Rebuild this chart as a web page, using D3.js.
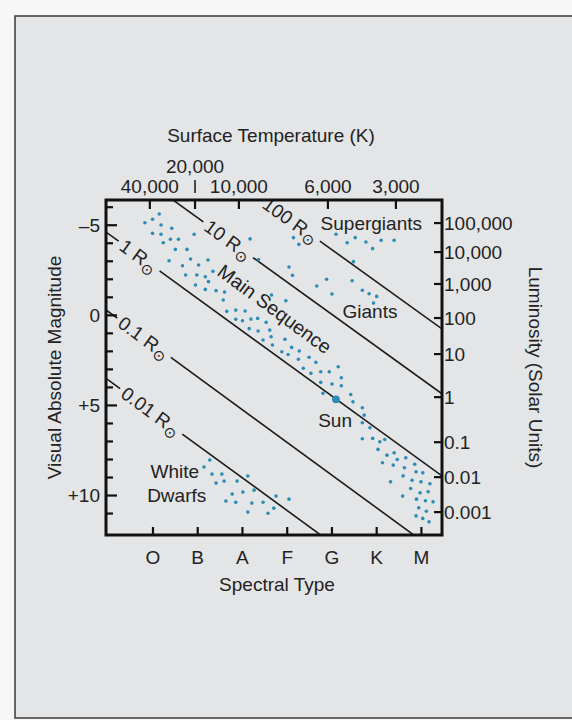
<!DOCTYPE html>
<html>
<head>
<meta charset="UTF-8">
<title>Hertzsprung-Russell Diagram</title>
<style>
    body {
        margin: 0;
        padding: 0;
        background: #f7f7f7;
        font-family: 'Liberation Sans', Arial, Helvetica, sans-serif;
    }
    svg text { fill: #222; }
</style>
</head>
<body>

<svg></svg>

<script src="https://d3js.org/d3.v7.min.js"></script>
<script>

// ---- data (x = spectral class position, O=0 ... M=6; y = visual absolute magnitude)
let spectralTypes = ["O", "B", "A", "F", "G", "K", "M"];

let tempLabels = ["40,000", "20,000", "10,000", "6,000", "3,000"];
let tempPos = [-0.07, 0.94, 1.92, 3.91, 5.43];

let magTicks = [-6, -5, -4, -3, -2, -1, 0, 1, 2, 3, 4, 5, 6, 7, 8, 9, 10, 11];
let magLabels = ["–5", "0", "+5", "+10"];
let magLabelValues = [-5, 0, 5, 10];

let lumLabels = ["100,000", "10,000", "1,000", "100", "10", "1", "0.1", "0.01", "0.001"];
let lumMag = [-5.12, -3.51, -1.74, 0.15, 2.15, 4.54, 7.04, 8.98, 10.92];

// lines of constant radius: magnitude where each crosses type O and type M
let radii = ["100", "10", "1", "0.1", "0.01"];
let radiusMagO = [-10.78, -7.2, -2.73, 1.61, 5.4];
let radiusMagM = [-0.07, 3.53, 8.08, 12.5, 16.27];
let radiusLabelX = [3.08, 1.68, -0.31, -0.2, -0.04];

let mainSequence = [
    [-0.18,-5.14],[-0.01,-5.33],[0.14,-5.62],[0.18,-5.01],[-0.01,-4.55],[0.18,-4.50],[0.42,-4.83],
    [0.23,-4.03],[0.39,-4.22],[0.57,-4.22],[0.92,-4.50],[0.50,-3.66],[0.76,-3.66],[0.36,-3.03],
    [0.84,-3.13],[0.66,-2.75],[1.02,-2.79],[1.23,-3.07],[0.73,-2.24],[0.98,-2.24],[1.17,-2.14],
    [1.34,-2.44],[0.95,-1.68],[1.24,-1.87],[1.17,-1.44],[1.41,-1.37],[1.60,-1.29],[1.57,-0.85],
    [1.65,-0.22],[1.85,-0.29],[1.85,0.22],[2.06,-0.24],[2.00,0.30],[2.19,0.21],[2.34,0.17],
    [2.53,0.39],[2.15,0.74],[2.35,0.87],[2.61,0.82],[2.65,-1.13],[2.97,-0.81],
    [2.46,1.37],[2.64,1.19],[2.67,1.65],[2.95,1.33],[2.88,2.02],[3.02,2.17],[3.10,1.78],
    [3.27,1.98],[3.25,2.44],[3.49,2.33],[3.64,2.61],[3.36,2.94],[3.53,3.22],[3.75,3.13],
    [3.94,3.13],[4.14,2.85],[4.21,3.46],[3.75,3.72],[4.00,3.81],[4.21,3.91],[3.80,4.33],
    [4.42,4.39],[4.47,4.80],[4.68,5.13],[4.72,5.54],[4.68,5.96],[4.85,6.24],[4.68,6.85],
    [4.91,6.83],[5.07,7.02],[5.18,6.89],[5.03,7.44],[5.23,7.76],[5.39,7.63],[5.46,8.00],
    [5.13,8.18],[5.37,8.31],[5.65,7.91],[5.62,8.46],[5.85,8.26],[5.88,8.68],[6.03,8.74],
    [5.31,9.24],[5.59,8.91],[5.79,9.15],[5.99,9.24],[6.19,9.35],[5.76,9.61],[5.97,9.85],
    [6.15,9.79],[5.58,10.03],[5.89,10.20],[6.09,10.29],[6.26,10.35],[5.94,10.68],[6.11,10.87],
    [5.88,11.13],[6.03,11.27],[6.17,11.46]
];
let giants = [
    [2.17,-4.24],[2.36,-3.09],[3.14,-4.31],[3.26,-3.94],[3.04,-2.68],[3.12,-2.22],[3.66,-1.63],
    [3.88,-2.00],[4.00,-1.18],[4.48,-2.98],[4.45,-1.92],[4.68,-1.39],[4.83,-1.20],[5.00,-1.05],
    [4.93,-0.68]
];
let supergiants = [
    [4.09,-4.50],[4.34,-4.03],[4.52,-4.31],[4.76,-4.07],[4.91,-3.70],[5.10,-4.16],[5.39,-4.16]
];
let whiteDwarfs = [
    [1.27,8.03],[1.14,8.42],[1.32,8.81],[1.54,8.81],[1.41,9.31],[1.59,9.20],[1.88,9.20],
    [2.12,8.92],[1.77,9.92],[2.01,9.81],[2.26,9.70],[1.63,10.31],[1.85,10.37],[2.21,10.42],
    [2.46,10.37],[2.75,10.03],[3.04,10.20],[2.12,10.92],[2.57,10.98],[2.70,10.70]
];
let sun = [4.09, 4.66];

// ---- layout
let w = 572, h = 720;
let plot = {left: 106, right: 442, top: 200, bottom: 535};
let dotColor = "#2b8cb5";

let svg = d3.select("svg").attr("width", w).attr("height", h);

let x = d3.scaleLinear().domain([-1.05, 6.46]).range([plot.left, plot.right]);
let y = d3.scaleLinear().domain([-6.4, 12.19]).range([plot.top, plot.bottom]);

// page (scanned paper)
svg.append("rect")
    .attr("x", 15).attr("y", 16)
    .attr("width", w).attr("height", 702)
    .attr("fill", "#e4e5e7")
    .attr("stroke", "#3a3a3a")
    .attr("stroke-width", 1.5);

svg.append("clipPath").attr("id", "plotClip")
    .append("rect")
    .attr("x", plot.left).attr("y", plot.top)
    .attr("width", plot.right - plot.left).attr("height", plot.bottom - plot.top);

// lines of constant radius with labels sitting in a gap
let lineG = svg.append("g").attr("clip-path", "url(#plotClip)");
radii.forEach((r, i) => {
    let f = xv => radiusMagO[i] + (radiusMagM[i] - radiusMagO[i]) * xv / 6;
    let [x0, x1] = x.domain();
    let p0 = [x(x0), y(f(x0))], p1 = [x(x1), y(f(x1))];
    let c = [x(radiusLabelX[i]), y(f(radiusLabelX[i]))];
    let ang = Math.atan2(p1[1] - p0[1], p1[0] - p0[0]);
    let u = [Math.cos(ang), Math.sin(ang)];

    let t = svg.append("text")
        .attr("transform", `translate(${c[0]},${c[1]}) rotate(${ang * 180 / Math.PI})`)
        .attr("text-anchor", "middle")
        .attr("dy", "0.35em")
        .style("font-size", "19px");
    t.append("tspan").text(`${r} R`);
    t.append("tspan").text("⊙").attr("dy", "0.3em").style("font-size", "15px");

    let half = t.node().getComputedTextLength() / 2 + 4;
    let segs = [
        [p0, [c[0] - u[0] * half, c[1] - u[1] * half]],
        [[c[0] + u[0] * half, c[1] + u[1] * half], p1]
    ];
    lineG.selectAll(null)
        .data(segs)
        .enter()
        .append("line")
        .attr("x1", d => d[0][0]).attr("y1", d => d[0][1])
        .attr("x2", d => d[1][0]).attr("y2", d => d[1][1])
        .attr("stroke", "#1a1a1a")
        .attr("stroke-width", 1.6);
});

// stars
let starG = svg.append("g");
[mainSequence, giants, supergiants, whiteDwarfs].forEach(group => {
    starG.selectAll(null)
        .data(group)
        .enter()
        .append("circle")
        .attr("cx", d => x(d[0]))
        .attr("cy", d => y(d[1]))
        .attr("r", 1.8)
        .attr("fill", dotColor);
});
starG.append("circle")
    .attr("cx", x(sun[0])).attr("cy", y(sun[1]))
    .attr("r", 3.9)
    .attr("fill", dotColor);

// region labels
let labelG = svg.append("g").style("font-size", "19px").attr("text-anchor", "middle");
labelG.append("text").attr("x", x(4.88)).attr("y", y(-4.72)).text("Supergiants");
labelG.append("text").attr("x", x(4.85)).attr("y", y(0.15)).text("Giants");
labelG.append("text").attr("x", x(4.07)).attr("y", y(6.17)).text("Sun");
labelG.append("text").attr("x", x(0.49)).attr("y", y(9.03)).text("White");
labelG.append("text").attr("x", x(0.53)).attr("y", y(10.37)).text("Dwarfs");
labelG.append("text")
    .attr("transform", `translate(${x(2.72)},${y(-0.35)}) rotate(36.4)`)
    .attr("dy", "0.35em")
    .style("font-size", "19.5px")
    .text("Main Sequence");

// frame
svg.append("rect")
    .attr("x", plot.left).attr("y", plot.top)
    .attr("width", plot.right - plot.left).attr("height", plot.bottom - plot.top)
    .attr("fill", "none")
    .attr("stroke", "#111")
    .attr("stroke-width", 3);

let tickG = svg.append("g").attr("stroke", "#111").attr("stroke-width", 2.2);

// left: magnitude ticks (inside)
tickG.selectAll(null)
    .data(magTicks)
    .enter()
    .append("line")
    .attr("x1", plot.left).attr("x2", d => plot.left + (d % 5 === 0 ? 11 : 7))
    .attr("y1", d => y(d)).attr("y2", d => y(d));

// right: luminosity ticks (inside)
tickG.selectAll(null)
    .data(lumMag)
    .enter()
    .append("line")
    .attr("x1", plot.right - 8).attr("x2", plot.right)
    .attr("y1", d => y(d)).attr("y2", d => y(d));

// bottom: spectral type ticks
tickG.selectAll(null)
    .data(spectralTypes)
    .enter()
    .append("line")
    .attr("x1", (d, i) => x(i)).attr("x2", (d, i) => x(i))
    .attr("y1", plot.bottom - 8).attr("y2", plot.bottom);

// top: temperature ticks
tickG.selectAll(null)
    .data(tempPos)
    .enter()
    .append("line")
    .attr("x1", d => x(d)).attr("x2", d => x(d))
    .attr("y1", plot.top).attr("y2", plot.top + 9);

// tick labels
let axisText = svg.append("g").style("font-size", "19px");

axisText.selectAll(null)
    .data(magLabels)
    .enter()
    .append("text")
    .attr("x", plot.left - 6)
    .attr("y", (d, i) => y(magLabelValues[i]))
    .attr("dy", "0.35em")
    .attr("text-anchor", "end")
    .text(d => d);

axisText.selectAll(null)
    .data(lumLabels)
    .enter()
    .append("text")
    .attr("x", plot.right + 2)
    .attr("y", (d, i) => y(lumMag[i]))
    .attr("dy", "0.35em")
    .text(d => d);

axisText.selectAll(null)
    .data(spectralTypes)
    .enter()
    .append("text")
    .attr("x", (d, i) => x(i))
    .attr("y", plot.bottom + 29)
    .attr("text-anchor", "middle")
    .text(d => d);

axisText.selectAll(null)
    .data(tempLabels)
    .enter()
    .append("text")
    .attr("x", (d, i) => x(tempPos[i]))
    .attr("y", (d, i) => i === 1 ? plot.top - 27 : plot.top - 7)
    .attr("text-anchor", "middle")
    .text(d => d);

// little pointer under the raised 20,000 label
svg.append("line")
    .attr("x1", x(tempPos[1])).attr("x2", x(tempPos[1]))
    .attr("y1", plot.top - 20).attr("y2", plot.top - 7)
    .attr("stroke", "#222").attr("stroke-width", 1.6);

// axis titles
axisText.append("text")
    .attr("x", 271).attr("y", 142)
    .attr("text-anchor", "middle")
    .text("Surface Temperature (K)");

axisText.append("text")
    .attr("x", 277).attr("y", 591)
    .attr("text-anchor", "middle")
    .text("Spectral Type");

axisText.append("text")
    .attr("transform", `translate(61,${(plot.top + plot.bottom) / 2}) rotate(-90)`)
    .attr("text-anchor", "middle")
    .text("Visual Absolute Magnitude");

axisText.append("text")
    .attr("transform", `translate(529,${(plot.top + plot.bottom) / 2}) rotate(90)`)
    .attr("text-anchor", "middle")
    .text("Luminosity (Solar Units)");

</script>
</body>
</html>
